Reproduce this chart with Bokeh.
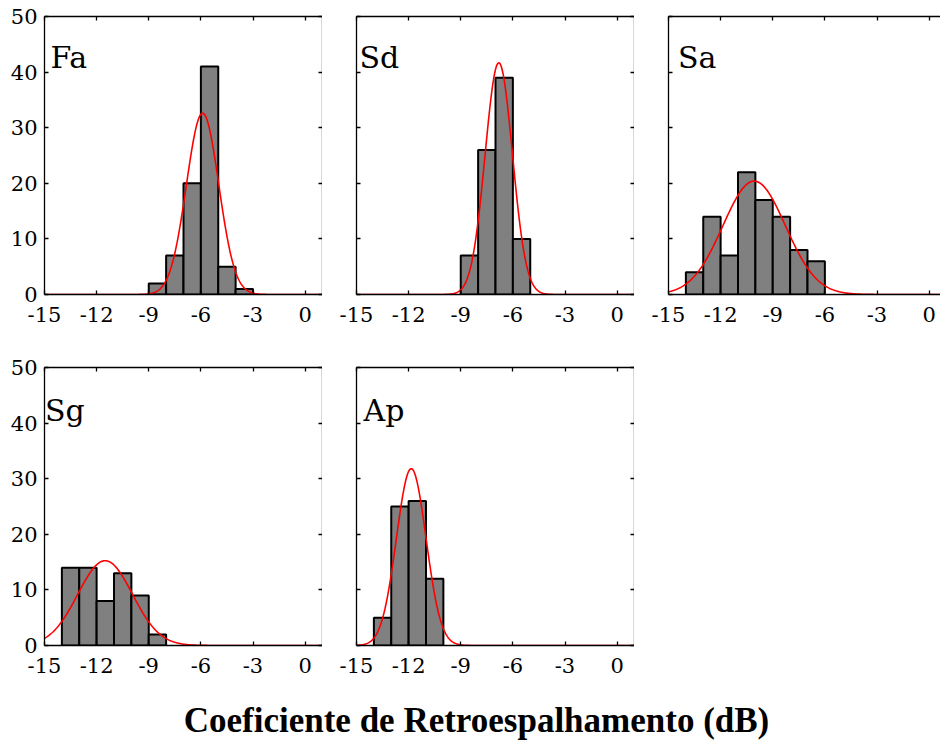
import numpy as np
from bokeh.plotting import figure
from bokeh.models import Range1d, LinearAxis, FixedTicker, Div
from bokeh.layouts import column, row
from bokeh.embed import file_html
from bokeh.resources import INLINE
from bokeh.core.properties import value

# ---------------- data ----------------
panel_names = ["Fa", "Sd", "Sa", "Sg", "Ap"]
bin_width = 1.0
fa_bin_start = -9
fa_counts = [2, 7, 20, 41, 5, 1]
sd_bin_start = -9
sd_counts = [7, 26, 39, 10]
sa_bin_start = -14
sa_counts = [4, 14, 7, 22, 17, 14, 8, 6]
sg_bin_start = -14
sg_counts = [14, 14, 8, 13, 9, 2]
ap_bin_start = -14
ap_counts = [5, 25, 26, 12]
# normal fit (mean, std) per panel
fit_mean = [-5.9, -6.81, -10.07, -11.51, -11.85]
fit_std = [0.93, 0.785, 1.80, 1.57, 0.853]
x_ticks = [-15, -12, -9, -6, -3, 0]
x_tick_labels = ["-15", "-12", "-9", "-6", "-3", "0"]
y_ticks = [0, 10, 20, 30, 40, 50]
y_tick_labels = ["0", "10", "20", "30", "40", "50"]
x_title = "Coeficiente de Retroespalhamento (dB)"

bin_starts = [fa_bin_start, sd_bin_start, sa_bin_start, sg_bin_start, ap_bin_start]
all_counts = [fa_counts, sd_counts, sa_counts, sg_counts, ap_counts]

# ---------------- style / layout ----------------
FONT = "DejaVu Serif"
FRAME = 278
PX_PER_UNIT = FRAME / 16.0
X0 = -15.0
label_dx_px = [6, 3, 9.5, 0.5, 7]
label_y = [42.65, 42.65, 42.65, 42.3, 42.3]


def base_axis(ax):
    ax.axis_line_color = "black"
    ax.axis_line_width = 1.3
    ax.major_tick_in = 4
    ax.major_tick_out = 0
    ax.major_tick_line_color = "black"
    ax.major_tick_line_width = 1.3
    ax.minor_tick_in = 4
    ax.minor_tick_out = 0
    ax.minor_tick_line_color = "black"
    ax.minor_tick_line_width = 1.3


def labelled_axis(ticks, labels, standoff):
    ax = LinearAxis(ticker=FixedTicker(ticks=ticks))
    base_axis(ax)
    ax.minor_tick_line_color = None
    ax.major_label_overrides = {t: s for t, s in zip(ticks, labels)}
    ax.major_label_text_font = FONT
    ax.major_label_text_font_size = "21px"
    ax.major_label_text_color = "black"
    ax.major_label_standoff = standoff
    return ax


def tick_only_axis(ticks):
    # ticks drawn as minor ticks so that no labels are produced
    ax = LinearAxis(ticker=FixedTicker(ticks=[], minor_ticks=ticks))
    base_axis(ax)
    ax.major_label_standoff = 0
    return ax


def make_panel(i, col_idx, row_idx):
    clipped = col_idx == 2
    fw = 272 if clipped else FRAME
    x_end = X0 + fw / PX_PER_UNIT
    p = figure(
        frame_width=fw, frame_height=FRAME,
        x_range=Range1d(X0, x_end), y_range=Range1d(0, 50),
        output_backend="svg", toolbar_location=None,
        x_axis_location=None, y_axis_location=None,
        min_border_left=44 if col_idx == 0 else 34,
        min_border_right=0,
        min_border_top=16 if row_idx == 0 else 28,
        min_border_bottom=45 if row_idx == 0 else 51,
        outline_line_color=None, background_fill_color="white",
        border_fill_color="white",
    )
    p.grid.grid_line_color = None

    p.add_layout(labelled_axis(x_ticks, x_tick_labels, 12), "below")
    p.add_layout(tick_only_axis(x_ticks), "above")
    if col_idx == 0:
        p.add_layout(labelled_axis(y_ticks, y_tick_labels, 7), "left")
    else:
        p.add_layout(tick_only_axis(y_ticks), "left")
    if not clipped:
        p.add_layout(tick_only_axis(y_ticks), "right")

    counts = all_counts[i]
    lefts = [bin_starts[i] + k * bin_width for k in range(len(counts))]
    rights = [l + bin_width for l in lefts]
    p.quad(left=lefts, right=rights, bottom=0, top=counts,
           fill_color="#808080", line_color="black", line_width=2)

    n = sum(counts)
    mu, sd = fit_mean[i], fit_std[i]
    xs = np.linspace(X0, x_end, 500)
    ys = n * bin_width / (sd * np.sqrt(2 * np.pi)) * np.exp(-0.5 * ((xs - mu) / sd) ** 2)
    p.line(xs, ys, line_color="#ff0000", line_width=1.6)

    p.text(x=[X0 + label_dx_px[i] / PX_PER_UNIT], y=[label_y[i]], text=[panel_names[i]],
           text_font=value(FONT), text_font_size="30px", text_color="black",
           text_align="left", text_baseline="alphabetic")
    return p


p1 = make_panel(0, 0, 0)
p2 = make_panel(1, 1, 0)
p3 = make_panel(2, 2, 0)
p4 = make_panel(3, 0, 1)
p5 = make_panel(4, 1, 1)

title = Div(
    text=f'<div style="padding-left:11px">{x_title}</div>',
    width=932, height=44,
    styles={"font-family": "'Liberation Serif'", "font-weight": "bold", "font-size": "35px",
            "text-align": "center", "color": "black", "line-height": "1.15"},
)

layout = column(row(p1, p2, p3), row(p4, p5), title)

with open("out.html", "w") as f:
    f.write(file_html(layout, INLINE))
